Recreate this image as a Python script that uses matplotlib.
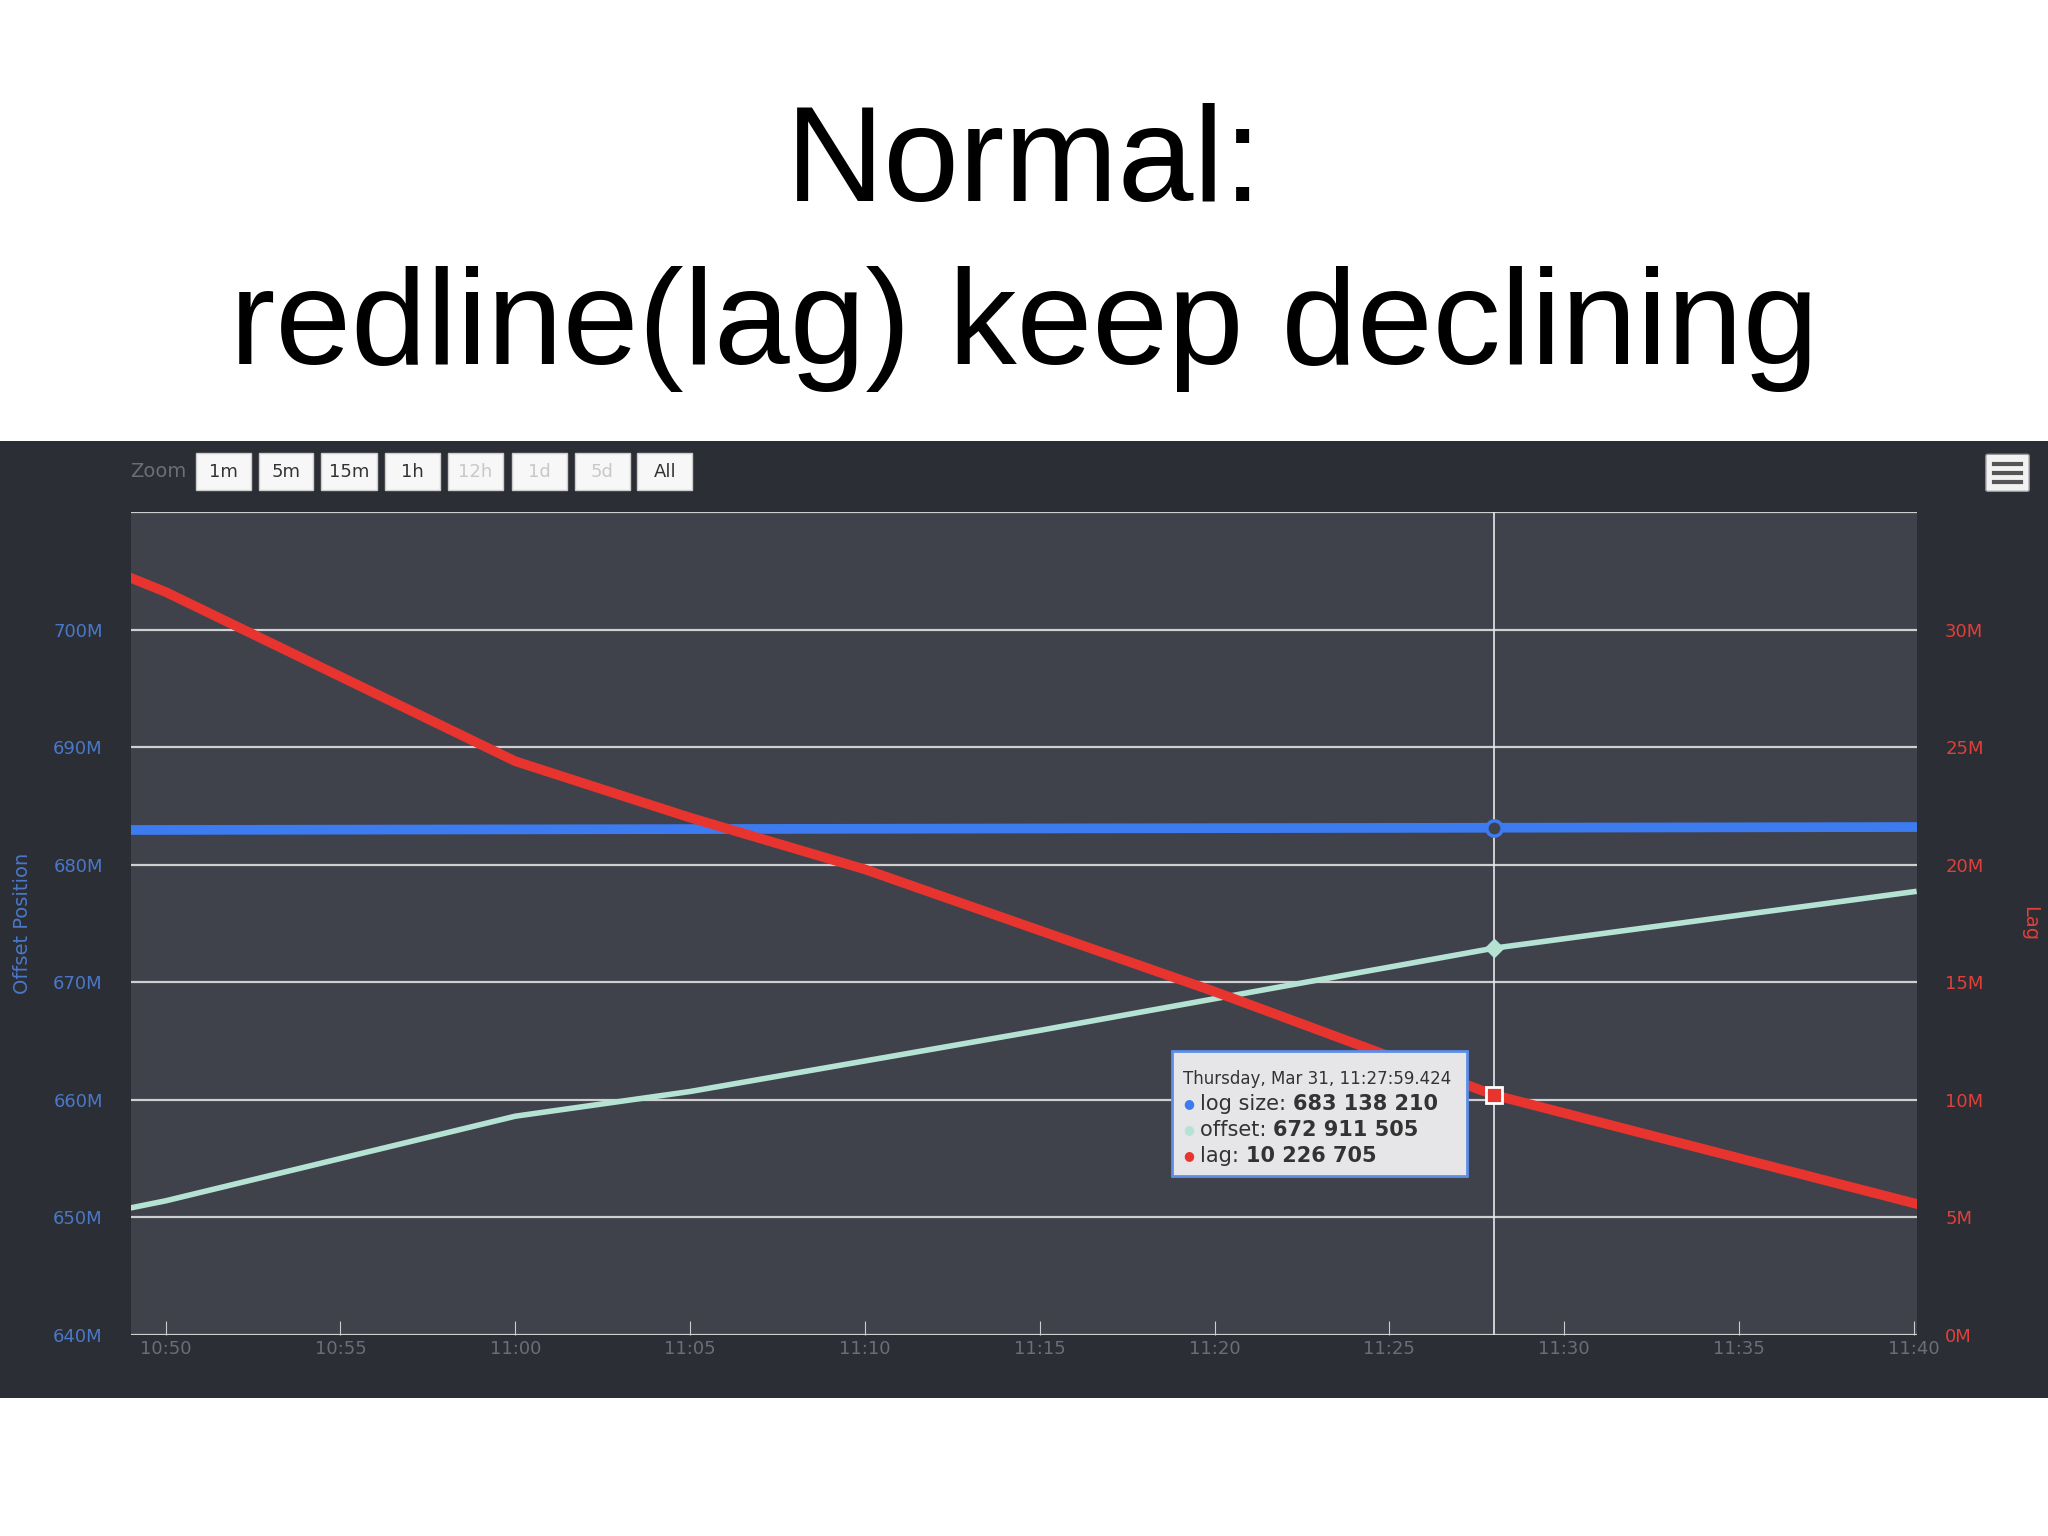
import matplotlib.pyplot as plt
import matplotlib.patches as patches
import numpy as np

# values (minutes after 10:00)
logTimes = [49, 60, 75, 88, 100]
logSize = [682.95, 683.0, 683.08, 683.14, 683.2]          # M
offTimes = [49, 50, 60, 65, 75, 88, 100]
offset = [650.8, 651.4, 658.6, 660.7, 665.9, 672.9, 677.7]  # M
lagTimes = [49, 50, 60, 65, 70, 80, 88, 100]
lag = [32.2, 31.6, 24.4, 22.0, 19.8, 14.6, 10.2, 5.6]       # M
tickLabels = ["10:50", "10:55", "11:00", "11:05", "11:10", "11:15", "11:20", "11:25", "11:30", "11:35", "11:40"]
zoomButtons = ["1m", "5m", "15m", "1h", "12h", "1d", "5d", "All"]
zoomEnabled = [True, True, True, True, False, False, False, True]

fig = plt.figure(figsize=(20.48, 15.36), dpi=100)
fig.patch.set_facecolor("white")

# title
fig.text(0.5, 0.892, "Normal:", ha="center", va="center", fontsize=98, family="Liberation Sans")
fig.text(0.5, 0.786, "redline(lag) keep declining", ha="center", va="center", fontsize=98, family="Liberation Sans")

# dark chart panel (behind the axes)
fig.patches.append(patches.Rectangle((0, 1 - 1070 / 1176), 1, (1070 - 338) / 1176, transform=fig.transFigure,
                                     facecolor="#2b2e35", edgecolor="none", zorder=-10))

ax = fig.add_axes([100 / 1568, 1 - 1022 / 1176, 1368 / 1568, 630 / 1176])
ax.set_facecolor("#3f414b")
ax.set_xlim(49, 100.1)
ax.set_ylim(640, 710)
ax.set_yticks(np.arange(640, 711, 10))
ax.set_yticklabels([f"{v}M" if v < 710 else "" for v in range(640, 711, 10)], color="#4a78c8", fontsize=13)
ax.grid(axis="y", color="#d0d0d0", linewidth=1.6)
ax.set_xticks(np.arange(50, 101, 5))
ax.set_xticklabels(tickLabels, color="#6b6e78", fontsize=13)
ax.tick_params(axis="x", length=10, color="#cccccc", direction="in")
ax.tick_params(axis="y", length=0, pad=20)
for s in ax.spines.values():
    s.set_visible(False)
ax.axhline(640, color="#d0d0d0", linewidth=2)
ax.set_ylabel("Offset Position", color="#4a78c8", fontsize=14, labelpad=15)

ax2 = ax.twinx()
ax2.set_ylim(0, 35)
ax2.set_yticks(np.arange(0, 31, 5))
ax2.set_yticklabels([f"{v}M" for v in range(0, 31, 5)], color="#e0403a", fontsize=13)
ax2.tick_params(axis="y", length=0, pad=20)
for s in ax2.spines.values():
    s.set_visible(False)
ax2.set_ylabel("Lag", color="#e0403a", fontsize=14, rotation=-90, labelpad=40)

ax.plot(logTimes, logSize, color="#3d7cf0", linewidth=7, zorder=3)
ax.plot(offTimes, offset, color="#b5e3d3", linewidth=4, zorder=3)
ax2.plot(lagTimes, lag, color="#e8342f", linewidth=7, zorder=3)

# crosshair and hover markers at 11:28
ax.axvline(88, color="#e8e8e8", linewidth=1.2, zorder=2)
ax.plot([88], [683.14], marker="o", markersize=11, markerfacecolor="#3f414b", markeredgecolor="#3d7cf0", markeredgewidth=2.5, zorder=5)
ax.plot([88], [672.9], marker="D", markersize=9, color="#b5e3d3", zorder=5)
ax2.plot([88], [10.2], marker="s", markersize=12, markerfacecolor="#e8342f", markeredgecolor="white", markeredgewidth=2, zorder=5)

# tooltip
tx0, ty0 = 897 / 1568, 1 - 900 / 1176
tw, th = 226 / 1568, 95 / 1176
fig.patches.append(patches.Rectangle((tx0, ty0), tw, th, transform=fig.transFigure,
                                     facecolor="#e6e6e8", edgecolor="#5c8ee8", linewidth=2, zorder=10))
fig.text(906 / 1568, 1 - 826 / 1176, "Thursday, Mar 31, 11:27:59.424", fontsize=12, color="#333333", va="center", zorder=11)
rows = [("log size: ", "683 138 210", "#3d7cf0"), ("offset: ", "672 911 505", "#b5e3d3"), ("lag: ", "10 226 705", "#e8342f")]
for i, (name, val, col) in enumerate(rows):
    y = 1 - (845 + i * 20) / 1176
    fig.text(906 / 1568, y, "\u25CF", fontsize=9, color=col, va="center", zorder=11)
    t = fig.text(919 / 1568, y, name, fontsize=15, color="#333333", va="center", zorder=11)
    fig.canvas.draw()
    bb = t.get_window_extent()
    fig.text(bb.x1 / fig.bbox.width, y, val, fontsize=15, color="#333333", weight="bold", va="center", zorder=11)

# zoom buttons
fig.text(100 / 1568, 1 - 361 / 1176, "Zoom", fontsize=14, color="#6b6e78", va="center")
bx = [150, 198, 246, 295, 343, 392, 440, 488]
bw = [42, 42, 43, 42, 42, 42, 42, 42]
for x, w, lbl, en in zip(bx, bw, zoomButtons, zoomEnabled):
    fig.patches.append(patches.Rectangle((x / 1568, 1 - 375 / 1176), w / 1568, 28 / 1176, transform=fig.transFigure,
                                         facecolor="#f7f7f7", edgecolor="#cccccc", zorder=5))
    fig.text((x + w / 2) / 1568, 1 - 361 / 1176, lbl, fontsize=13, ha="center", va="center",
             color="#333333" if en else "#c8c8c8", zorder=6)

# menu icon
fig.patches.append(patches.FancyBboxPatch((1522 / 1568, 1 - 375 / 1176), 30 / 1568, 26 / 1176, transform=fig.transFigure,
                                          boxstyle="round,pad=0.001", facecolor="#f2f2f2", edgecolor="#999999", zorder=5))
for k in range(3):
    fig.lines.append(plt.Line2D([1527 / 1568, 1547 / 1568], [1 - (355 + k * 7) / 1176] * 2, transform=fig.transFigure,
                                color="#555555", linewidth=3, zorder=6))

fig.savefig("out.png", dpi=100, facecolor=fig.get_facecolor())
